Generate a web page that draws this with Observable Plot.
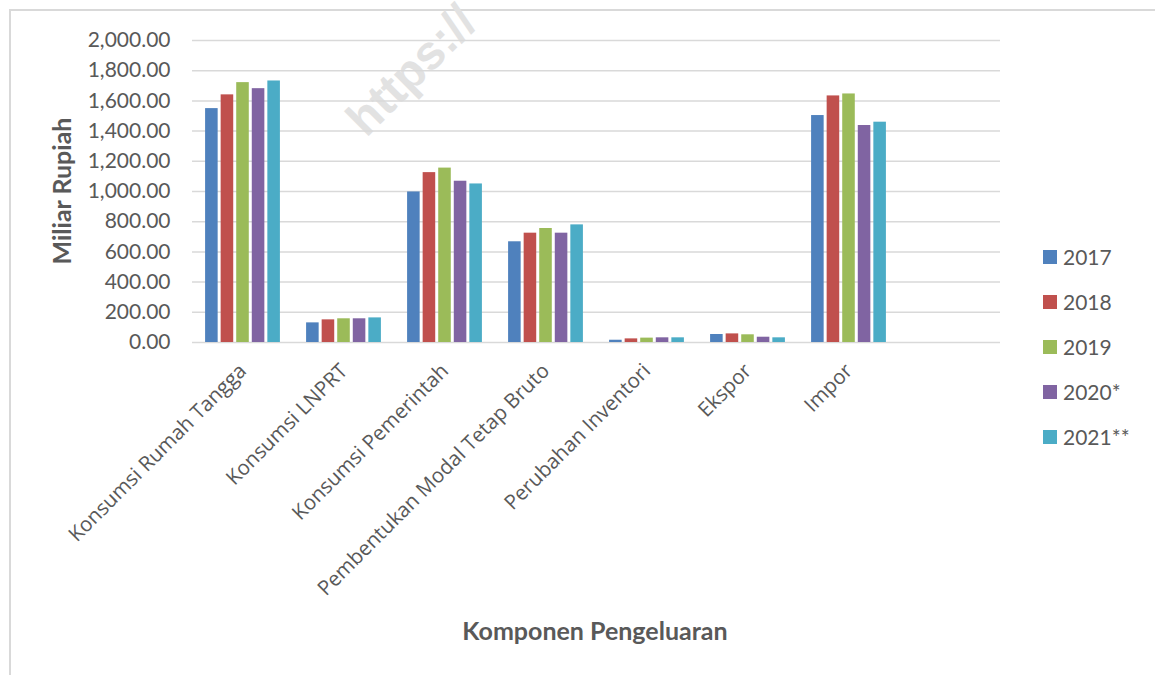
<!DOCTYPE html>
<html>
<head>
<meta charset="utf-8">
<script src="https://cdn.jsdelivr.net/npm/d3@7"></script>
<script src="https://cdn.jsdelivr.net/npm/@observablehq/plot@0.6"></script>
<style>
  body { margin: 0; background: #fff; }
  #wrap { position: relative; width: 1155px; height: 675px; overflow: hidden; font-family: Lato, "Open Sans", sans-serif; color: #595959; background: #fff; }
  #border { position: absolute; left: 9px; top: 9px; width: 1300px; height: 800px; border: 2px solid #d9d9d9; box-sizing: border-box; }
  #watermark { position: absolute; left: 338px; top: 110px; font-family: "Liberation Sans", Arial, sans-serif; font-weight: bold; font-size: 48px; color: #e2e2e2; transform-origin: 0 0; transform: rotate(-45deg); white-space: nowrap; line-height: 1; }
  #chart { position: absolute; left: 0; top: 0; }
  #ytitle { position: absolute; left: 61px; top: 191px; transform: translate(-50%, -50%) rotate(-90deg); font-weight: bold; font-size: 25px; white-space: nowrap; }
  #xtitle { position: absolute; left: 595px; top: 615px; transform: translateX(-50%); font-weight: bold; font-size: 25px; white-space: nowrap; }
  #legend { position: absolute; left: 1043px; top: 0; }
  .li { position: absolute; left: 0; display: flex; align-items: center; white-space: nowrap; font-size: 21px; }
  .sw { width: 14px; height: 14px; margin-right: 6px; }
</style>
</head>
<body>
<div id="wrap">
  <div id="border"></div>
  <div id="watermark">https://</div>
  <div id="chart"></div>
  <div id="ytitle">Miliar Rupiah</div>
  <div id="xtitle">Komponen Pengeluaran</div>
  <div id="legend"></div>
</div>
<script>
const categories = ["Konsumsi Rumah Tangga", "Konsumsi LNPRT", "Konsumsi Pemerintah", "Pembentukan Modal Tetap Bruto", "Perubahan Inventori", "Ekspor", "Impor"];
const slots = [...categories, ""]; // the chart leaves one empty category slot at the right
const years = ["2017", "2018", "2019", "2020*", "2021**"];
const colors = ["#4f81bd", "#c0504d", "#9bbb59", "#8064a2", "#4bacc6"];
const v2017 = [1549, 130, 997, 667, 15, 53, 1503];
const v2018 = [1640, 150, 1125, 724, 24, 57, 1633];
const v2019 = [1721, 157, 1155, 755, 29, 51, 1646];
const v2020 = [1681, 157, 1068, 724, 31, 35, 1437];
const v2021 = [1732, 163, 1050, 779, 31, 31, 1459];
const yTicks = [0, 200, 400, 600, 800, 1000, 1200, 1400, 1600, 1800, 2000];

const series = [v2017, v2018, v2019, v2020, v2021];
const rows = [];
categories.forEach((c, i) => years.forEach((y, j) => rows.push({category: c, year: y, value: series[j][i]})));

const fmt = d3.format(",.2f");

const chart = Plot.plot({
  width: 1001,
  height: 675,
  marginLeft: 190,
  marginRight: 0,
  marginTop: 40,
  marginBottom: 333,
  style: {background: "transparent", fontFamily: "Lato, 'Open Sans', sans-serif", color: "#595959", fontSize: "21px", overflow: "visible"},
  fx: {domain: slots, padding: 0, label: null},
  x: {domain: years, axis: null, paddingInner: 0, paddingOuter: 0.745, round: false},
  y: {domain: [0, 2000], label: null},
  color: {domain: years, range: colors},
  marks: [
    Plot.gridY(yTicks, {stroke: "#d9d9d9", strokeOpacity: 1, strokeWidth: 1.5}),
    Plot.gridY(yTicks, {stroke: "#d9d9d9", strokeOpacity: 1, strokeWidth: 1.5, facetAnchor: "empty"}),
    Plot.barY(rows, {fx: "category", x: "year", y: "value", fill: "year", insetLeft: 1.5, insetRight: 1.5}),
    Plot.axisY(yTicks, {tickSize: 0, tickPadding: 22, tickFormat: fmt, fontSize: 21, fill: "#595959", label: null}),
    Plot.axisFx({anchor: "bottom", tickRotate: -45, tickSize: 0, tickPadding: 25, fontSize: 20.5, fontFamily: "'Open Sans', sans-serif", fill: "#595959", label: null})
  ]
});
document.getElementById("chart").appendChild(chart);

const legend = document.getElementById("legend");
years.forEach((y, i) => {
  const item = document.createElement("div");
  item.className = "li";
  item.style.top = (257 + i * 45 - 13) + "px";
  item.innerHTML = `<div class="sw" style="background:${colors[i]}"></div><span>${y}</span>`;
  legend.appendChild(item);
});
</script>
</body>
</html>
